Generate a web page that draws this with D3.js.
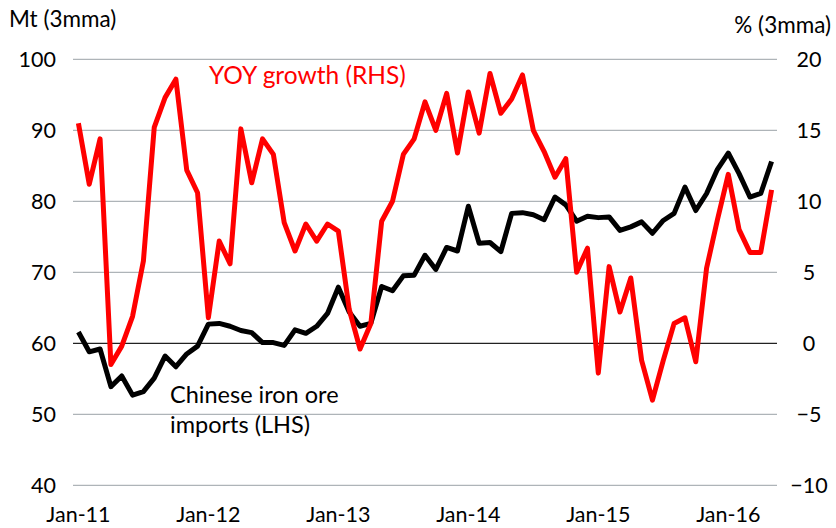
<!DOCTYPE html>
<html>
<head>
<meta charset="utf-8">
<script src="https://cdn.jsdelivr.net/npm/d3@7"></script>
<style>
  html, body { margin: 0; padding: 0; background: #fff; }
  svg { display: block; }
  text { font-family: Lato, "Open Sans", sans-serif; }
</style>
</head>
<body>
<svg id="chart" width="836" height="528"></svg>
<script>
// Monthly data, Jan-11 .. May-16
const months = d3.range(65).map(i => {
  const d = new Date(2011, i, 1);
  return d3.timeFormat("%b-%y")(d);
});
const imports = [
  61.6, 58.8, 59.2, 53.9, 55.4, 52.7, 53.2, 55.1, 58.2, 56.7,
  58.5, 59.6, 62.7, 62.8, 62.4, 61.8, 61.5, 60.1, 60.1, 59.7,
  61.9, 61.4, 62.4, 64.2, 67.9, 64.4, 62.4, 62.8, 68.0, 67.4,
  69.5, 69.6, 72.4, 70.4, 73.5, 73.0, 79.3, 74.1, 74.2, 72.9,
  78.3, 78.4, 78.1, 77.4, 80.6, 79.5, 77.2, 77.9, 77.7, 77.8,
  75.9, 76.4, 77.1, 75.5, 77.3, 78.3, 82.0, 78.7, 81.1, 84.5,
  86.8, 83.9, 80.6, 81.1, 85.6
];
const yoyGrowth = [
  15.5, 11.2, 14.4, -1.5, -0.2, 1.9, 5.8, 15.2, 17.3, 18.6,
  12.2, 10.6, 1.8, 7.2, 5.6, 15.1, 11.3, 14.4, 13.3, 8.5,
  6.5, 8.4, 7.2, 8.4, 7.9, 2.4, -0.4, 1.4, 8.6, 10.0,
  13.3, 14.4, 17.0, 15.0, 17.6, 13.4, 17.7, 14.8, 19.0, 16.2,
  17.2, 18.9, 15.0, 13.5, 11.7, 13.0, 5.0, 6.7, -2.1, 5.4,
  2.2, 4.6, -1.2, -4.0, -1.2, 1.4, 1.8, -1.3, 5.3, 8.7,
  11.9, 8.0, 6.4, 6.4, 10.8
];
const leftTicks = [40, 50, 60, 70, 80, 90, 100];
const rightTicks = [-10, -5, 0, 5, 10, 15, 20];
const xTickLabels = ["Jan-11", "Jan-12", "Jan-13", "Jan-14", "Jan-15", "Jan-16"];

const svg = d3.select("#chart");
const plot = { left: 73, right: 777, top: 59.3, bottom: 485.3 };

const x = d3.scaleBand().domain(months).range([plot.left, plot.right]);
const xc = m => x(m) + x.bandwidth() / 2;
const yL = d3.scaleLinear().domain([40, 100]).range([plot.bottom, plot.top]);
const yR = d3.scaleLinear().domain([-10, 20]).range([plot.bottom, plot.top]);

// gridlines
svg.append("g").selectAll("line").data(leftTicks.filter(t => t !== 60)).join("line")
  .attr("x1", plot.left).attr("x2", plot.right)
  .attr("y1", d => yL(d)).attr("y2", d => yL(d))
  .attr("stroke", "#aeb4b8").attr("stroke-width", 1.3);

// zero / 60 line
svg.append("line")
  .attr("x1", plot.left).attr("x2", plot.right)
  .attr("y1", yL(60)).attr("y2", yL(60))
  .attr("stroke", "#222").attr("stroke-width", 1.3);

// left axis labels
const leftAxis = d3.axisLeft(yL).tickValues(leftTicks).tickSize(0).tickPadding(0);
const gL = svg.append("g").attr("transform", "translate(56,0)").call(leftAxis);
gL.select(".domain").remove();
gL.selectAll("text").attr("font-size", 21.5).attr("fill", "#000")
  .style("font-family", "Lato, sans-serif");

// right axis labels
const rightAxis = d3.axisRight(yR).tickValues(rightTicks).tickSize(0).tickPadding(0);
const gR = svg.append("g").attr("transform", "translate(809,0)").call(rightAxis);
gR.select(".domain").remove();
gR.selectAll("text").attr("font-size", 21.5).attr("fill", "#000").attr("text-anchor", "middle")
  .style("font-family", "Lato, sans-serif");

// x axis labels
const xAxis = d3.axisBottom(x).tickValues(xTickLabels).tickSize(0).tickPadding(0);
const gX = svg.append("g").attr("transform", "translate(0,507)").call(xAxis);
gX.select(".domain").remove();
gX.selectAll("text").attr("font-size", 21.5).attr("fill", "#000")
  .style("font-family", "Lato, sans-serif");

// lines
const lineL = d3.line().x((d, i) => xc(months[i])).y(d => yL(d));
const lineR = d3.line().x((d, i) => xc(months[i])).y(d => yR(d));

svg.append("path").datum(imports).attr("d", lineL)
  .attr("fill", "none").attr("stroke", "#000").attr("stroke-width", 5)
  .attr("stroke-linejoin", "round");
svg.append("path").datum(yoyGrowth).attr("d", lineR)
  .attr("fill", "none").attr("stroke", "#ff0000").attr("stroke-width", 5)
  .attr("stroke-linejoin", "round");

// axis titles
svg.append("text").attr("x", 9).attr("y", 27).attr("font-size", 22.5).text("Mt (3mma)");
svg.append("text").attr("x", 831).attr("y", 33).attr("font-size", 22.5)
  .attr("text-anchor", "end").text("% (3mma)");

// series labels
svg.append("text").attr("x", 209).attr("y", 84).attr("font-size", 24.5)
  .attr("fill", "#ff0000").text("YOY growth (RHS)");
svg.append("text").attr("x", 170).attr("y", 403).attr("font-size", 23.5)
  .attr("fill", "#000").text("Chinese iron ore");
svg.append("text").attr("x", 170).attr("y", 433).attr("font-size", 23.5)
  .attr("fill", "#000").text("imports (LHS)");
</script>
</body>
</html>
